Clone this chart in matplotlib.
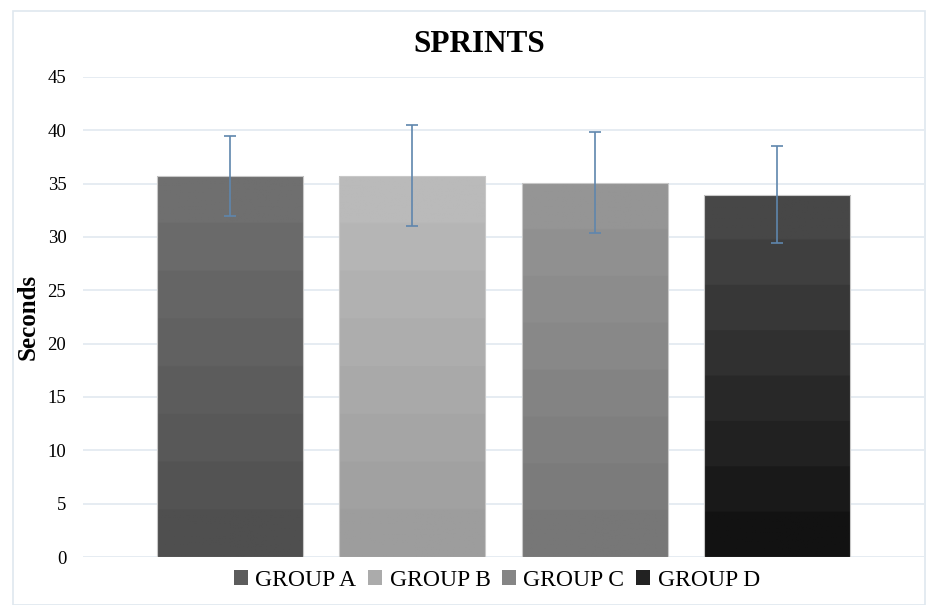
import numpy as np
import matplotlib
matplotlib.use("Agg")
import matplotlib.pyplot as plt
from matplotlib.patches import Patch, Rectangle
from matplotlib.colors import LinearSegmentedColormap

groups = ['GROUP A', 'GROUP B', 'GROUP C', 'GROUP D']
means = [35.75, 35.75, 35.1, 33.95]
errors = [3.75, 4.75, 4.7, 4.55]
top_colors = ['#6f6f6f', '#bababa', '#959595', '#474747']
bottom_colors = ['#4f4f4f', '#9d9d9d', '#777777', '#121212']
legend_colors = ['#5c5c5c', '#ababab', '#858585', '#222222']

plt.rcParams['font.family'] = ['Liberation Serif', 'DejaVu Serif']


def gradient_bar(ax, bar, c_top, c_bot, steps=8):
    cmap = LinearSegmentedColormap.from_list('g', [c_bot, c_top])
    grad = np.floor(np.linspace(0, 1, 200) * steps) / (steps - 1)
    grad = grad.reshape(-1, 1)
    x0, y0 = bar.get_x(), bar.get_y()
    w, h = bar.get_width(), bar.get_height()
    im = ax.imshow(grad, cmap=cmap, vmin=0, vmax=1, aspect='auto',
                   origin='lower', extent=(x0, x0 + w, y0, y0 + h), zorder=2)
    im.set_clip_path(bar)


def main():
    fig = plt.figure(figsize=(9.3, 6.05), dpi=100)
    ax = fig.add_axes([83 / 930, 1 - 557 / 605, (924 - 83) / 930, (557 - 77) / 605])

    # light frame around the whole chart
    fig.patches.append(Rectangle((13 / 930, 0), 912 / 930, 1 - 11 / 605,
                                 transform=fig.transFigure, fill=False,
                                 edgecolor='#dfe8ef', linewidth=1.2))

    x = np.arange(len(groups))
    bars = ax.bar(x, means, width=0.8, color='none', edgecolor='#c8c8c8',
                  linewidth=0.8, zorder=3)
    for b, ct, cb in zip(bars, top_colors, bottom_colors):
        gradient_bar(ax, b, ct, cb)

    ax.errorbar(x, means, yerr=errors, fmt='none', ecolor='#5f86ad',
                elinewidth=1.2, capsize=4.5, capthick=1.2, zorder=4)

    ax.set_xlim(-0.805, 3.803)
    ax.set_ylim(0, 45)
    ax.set_yticks(np.arange(0, 46, 5))
    ax.set_xticks([])
    ax.grid(axis='y', color='#e2e9f0', linewidth=1.2, zorder=0)
    ax.set_axisbelow(True)
    for s in ax.spines.values():
        s.set_visible(False)
    ax.tick_params(axis='y', length=0, pad=12, labelsize=13.5)

    ax.set_ylabel('Seconds', fontsize=18, fontweight='bold', labelpad=6)
    fig.text(0.515, 1 - 45 / 605, 'SPRINTS', ha='center', va='center',
             fontsize=22.5, fontweight='bold')

    handles = [Patch(facecolor=c, edgecolor='none') for c in legend_colors]
    fig.legend(handles, groups, loc='center', bbox_to_anchor=(497 / 930, 1 - 580 / 605),
               ncol=4, frameon=False, fontsize=17, handlelength=0.6,
               handleheight=0.6, handletextpad=0.3, columnspacing=0.5)

    fig.savefig('out.png', dpi=100)


main()
